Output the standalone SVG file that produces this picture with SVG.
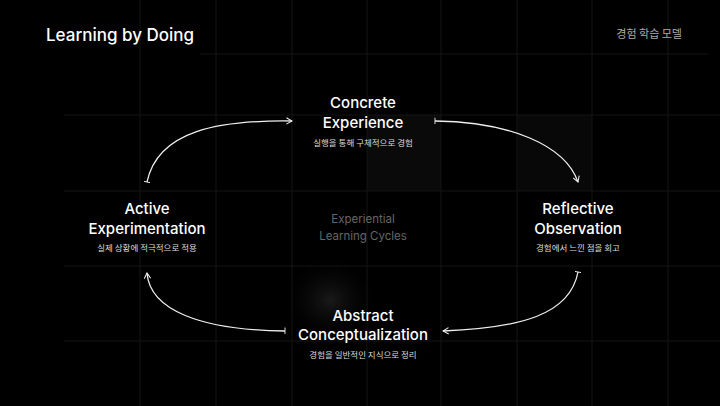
<svg xmlns="http://www.w3.org/2000/svg" width="720" height="406" viewBox="0 0 720 406">
<style>
.t{font-family:Inter,"Noto Sans","Noto Sans CJK KR",sans-serif;fill:#fff;font-weight:500;font-size:15px;text-anchor:middle}
.s{font-family:"Noto Sans CJK KR",sans-serif;fill:#ddd;font-size:8.5px;text-anchor:middle}
.g{stroke:#151515;stroke-width:1}
.c{fill:none;stroke:#eee;stroke-width:1.3;marker-end:url(#ah);marker-start:url(#tk)}
</style>
<defs>
<marker id="ah" viewBox="0 0 10 10" refX="9" refY="5" markerWidth="8" markerHeight="8" orient="auto" markerUnits="userSpaceOnUse"><path d="M2,1 L9,5 L2,9" fill="none" stroke="#eee" stroke-width="1.3"/></marker>
<marker id="tk" viewBox="0 0 10 10" refX="5" refY="5" markerWidth="7" markerHeight="7" orient="auto" markerUnits="userSpaceOnUse"><path d="M5,0 L5,10" stroke="#eee" stroke-width="1.3"/></marker>
<radialGradient id="gl"><stop offset="0" stop-color="#1a1a1a"/><stop offset="1" stop-color="#000" stop-opacity="0"/></radialGradient>
</defs>
<rect width="720" height="406" fill="#000"/>
<rect x="367" y="115" width="74" height="76" fill="#0a0a0a"/>
<rect x="517" y="115" width="75" height="76" fill="#080808"/>
<ellipse cx="330" cy="300" rx="50" ry="45" fill="url(#gl)"/>
<g class="g">
<path d="M64,115H720M64,191H720M64,266H720M64,341H720M200,54H708"/>
<path d="M140,0V406M216,0V406M292,0V406M367,0V406M441,0V406M517,0V406M592,0V406M668,0V406"/>
</g>
<text x="46" y="41" font-family="Inter,sans-serif" font-size="17" font-weight="500" fill="#fff">Learning by Doing</text>
<text x="682" y="38" font-family="'Noto Sans CJK KR',sans-serif" font-size="11" fill="#aaa" text-anchor="end">경험 학습 모델</text>
<g id="connectors">
<path class="c" d="M147,182 C158,130 220,120 292,121"/>
<path class="c" d="M435,121 C510,122 565,145 578,182"/>
<path class="c" d="M578,272 C570,315 520,328 443,331"/>
<path class="c" d="M285,331 C200,330 150,310 147,273"/>
</g>
<g id="concrete"><text class="t" x="363" y="108">Concrete</text><text class="t" x="363" y="128">Experience</text><text class="s" x="363" y="146">실행을 통해 구체적으로 경험</text></g>
<g id="reflective"><text class="t" x="578" y="214">Reflective</text><text class="t" x="578" y="234">Observation</text><text class="s" x="578" y="251">경험에서 느낀 점을 회고</text></g>
<g id="abstract"><text class="t" x="363" y="321">Abstract</text><text class="t" x="363" y="340">Conceptualization</text><text class="s" x="363" y="358">경험을 일반적인 지식으로 정리</text></g>
<g id="active"><text class="t" x="147" y="214">Active</text><text class="t" x="147" y="234">Experimentation</text><text class="s" x="147" y="251">실제 상황에 적극적으로 적용</text></g>
<g id="center"><text x="363" y="223" font-family="Inter,sans-serif" font-size="11.5" fill="#666" text-anchor="middle">Experiential</text><text x="363" y="240" font-family="Inter,sans-serif" font-size="11.5" fill="#666" text-anchor="middle">Learning Cycles</text></g>
</svg>
